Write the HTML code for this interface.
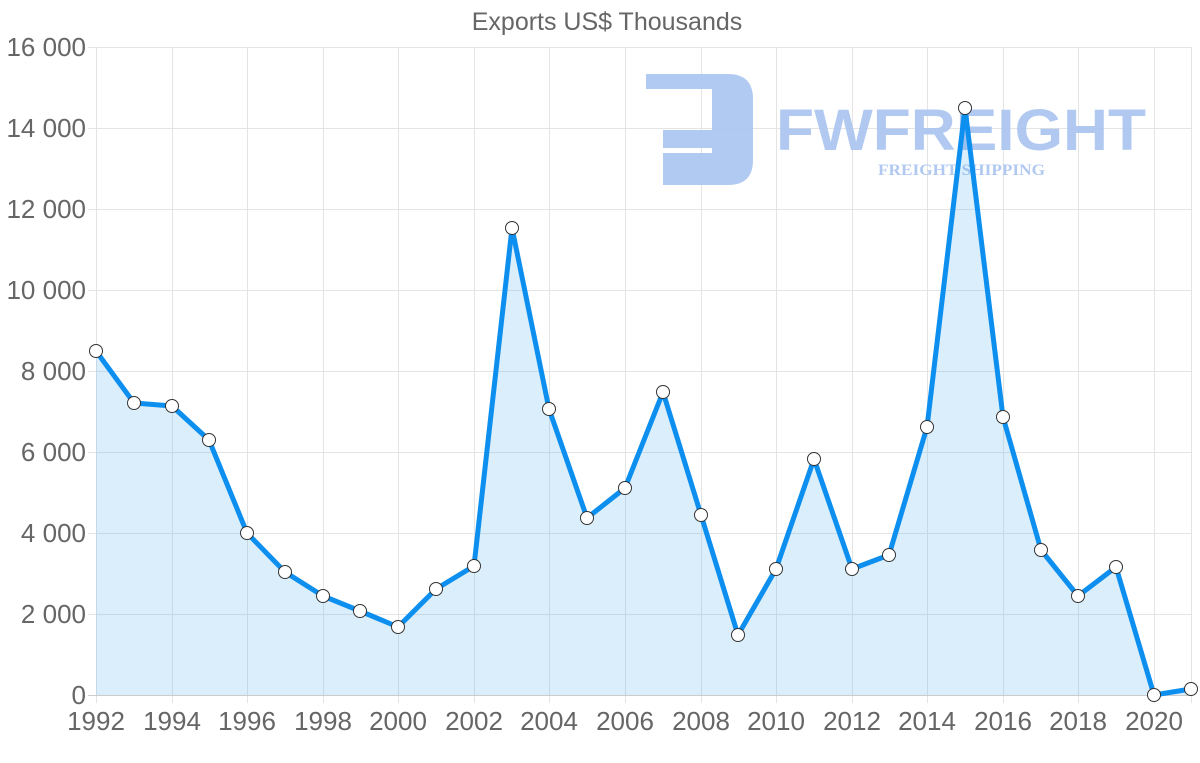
<!DOCTYPE html>
<html><head><meta charset="utf-8"><style>
html,body{margin:0;padding:0;background:#fff;}
svg{display:block;font-family:"Liberation Sans",sans-serif;}
</style></head><body>
<svg width="1200" height="763" viewBox="0 0 1200 763" xmlns="http://www.w3.org/2000/svg">
<text x="607" y="30" text-anchor="middle" font-size="25" fill="#666">Exports US$ Thousands</text>
<g stroke="#e4e4e4" stroke-width="1">
<line x1="88" y1="47.5" x2="1192" y2="47.5"/><line x1="88" y1="128.5" x2="1192" y2="128.5"/>
<line x1="88" y1="209.5" x2="1192" y2="209.5"/><line x1="88" y1="290.5" x2="1192" y2="290.5"/>
<line x1="88" y1="371.5" x2="1192" y2="371.5"/><line x1="88" y1="452.5" x2="1192" y2="452.5"/>
<line x1="88" y1="533.5" x2="1192" y2="533.5"/><line x1="88" y1="614.5" x2="1192" y2="614.5"/>
<line x1="96.5" y1="47" x2="96.5" y2="703"/><line x1="172.5" y1="47" x2="172.5" y2="703"/>
<line x1="247.5" y1="47" x2="247.5" y2="703"/><line x1="323.5" y1="47" x2="323.5" y2="703"/>
<line x1="398.5" y1="47" x2="398.5" y2="703"/><line x1="474.5" y1="47" x2="474.5" y2="703"/>
<line x1="549.5" y1="47" x2="549.5" y2="703"/><line x1="625.5" y1="47" x2="625.5" y2="703"/>
<line x1="701.5" y1="47" x2="701.5" y2="703"/><line x1="776.5" y1="47" x2="776.5" y2="703"/>
<line x1="852.5" y1="47" x2="852.5" y2="703"/><line x1="927.5" y1="47" x2="927.5" y2="703"/>
<line x1="1003.5" y1="47" x2="1003.5" y2="703"/><line x1="1078.5" y1="47" x2="1078.5" y2="703"/>
<line x1="1154.5" y1="47" x2="1154.5" y2="703"/><line x1="1191.5" y1="47" x2="1191.5" y2="703"/>
</g>
<line x1="88" y1="695.5" x2="1192" y2="695.5" stroke="#ccc"/>
<!-- watermark -->
<g fill="#a9c4f0" opacity="0.9">
<path d="M646 74 H728 Q753 74 753 99 V160 Q753 185 728 185 H663 V153 H712 V148 H663 V130 H712 V89 H646 Z"/>
<text x="776" y="150" font-size="58" font-weight="bold" textLength="370" lengthAdjust="spacingAndGlyphs">FWFREIGHT</text>
<text x="878" y="175" font-family="Liberation Serif,serif" font-size="16" font-weight="bold" textLength="167" lengthAdjust="spacingAndGlyphs">FREIGHT SHIPPING</text>
</g>
<g font-size="26" fill="#666" text-anchor="end">
<text x="86" y="56">16 000</text><text x="86" y="137">14 000</text><text x="86" y="218">12 000</text>
<text x="86" y="299">10 000</text><text x="86" y="380">8 000</text><text x="86" y="461">6 000</text>
<text x="86" y="542">4 000</text><text x="86" y="623">2 000</text><text x="86" y="704">0</text>
</g>
<g font-size="26" fill="#666" text-anchor="middle">
<text x="96" y="730">1992</text><text x="172" y="730">1994</text><text x="247" y="730">1996</text>
<text x="323" y="730">1998</text><text x="398" y="730">2000</text><text x="474" y="730">2002</text>
<text x="549" y="730">2004</text><text x="625" y="730">2006</text><text x="701" y="730">2008</text>
<text x="776" y="730">2010</text><text x="852" y="730">2012</text><text x="927" y="730">2014</text>
<text x="1003" y="730">2016</text><text x="1078" y="730">2018</text><text x="1154" y="730">2020</text>
</g>
<path fill="rgba(54,162,235,0.18)" d="M96 351 L134 403 L172 406 L209 440 L247 533 L285 572 L323 596 L360 611 L398 627 L436 589 L474 566 L512 228 L549 409 L587 518 L625 488 L663 392 L701 515 L738 635 L776 569 L814 459 L852 569 L889 555 L927 427 L965 108 L1003 417 L1041 550 L1078 596 L1116 567 L1154 695 L1191 689 L1191 695 L96 695 Z"/>
<polyline fill="none" stroke="#0d8ff0" stroke-width="5" stroke-linejoin="round" points="96,351 134,403 172,406 209,440 247,533 285,572 323,596 360,611 398,627 436,589 474,566 512,228 549,409 587,518 625,488 663,392 701,515 738,635 776,569 814,459 852,569 889,555 927,427 965,108 1003,417 1041,550 1078,596 1116,567 1154,695 1191,689"/>
<g fill="#fff" stroke="#333" stroke-width="1">
<circle cx="96" cy="351" r="6.5"/><circle cx="134" cy="403" r="6.5"/><circle cx="172" cy="406" r="6.5"/><circle cx="209" cy="440" r="6.5"/><circle cx="247" cy="533" r="6.5"/><circle cx="285" cy="572" r="6.5"/><circle cx="323" cy="596" r="6.5"/><circle cx="360" cy="611" r="6.5"/><circle cx="398" cy="627" r="6.5"/><circle cx="436" cy="589" r="6.5"/><circle cx="474" cy="566" r="6.5"/><circle cx="512" cy="228" r="6.5"/><circle cx="549" cy="409" r="6.5"/><circle cx="587" cy="518" r="6.5"/><circle cx="625" cy="488" r="6.5"/><circle cx="663" cy="392" r="6.5"/><circle cx="701" cy="515" r="6.5"/><circle cx="738" cy="635" r="6.5"/><circle cx="776" cy="569" r="6.5"/><circle cx="814" cy="459" r="6.5"/><circle cx="852" cy="569" r="6.5"/><circle cx="889" cy="555" r="6.5"/><circle cx="927" cy="427" r="6.5"/><circle cx="965" cy="108" r="6.5"/><circle cx="1003" cy="417" r="6.5"/><circle cx="1041" cy="550" r="6.5"/><circle cx="1078" cy="596" r="6.5"/><circle cx="1116" cy="567" r="6.5"/><circle cx="1154" cy="695" r="6.5"/><circle cx="1191" cy="689" r="6.5"/>
</g>
</svg>
</body></html>
